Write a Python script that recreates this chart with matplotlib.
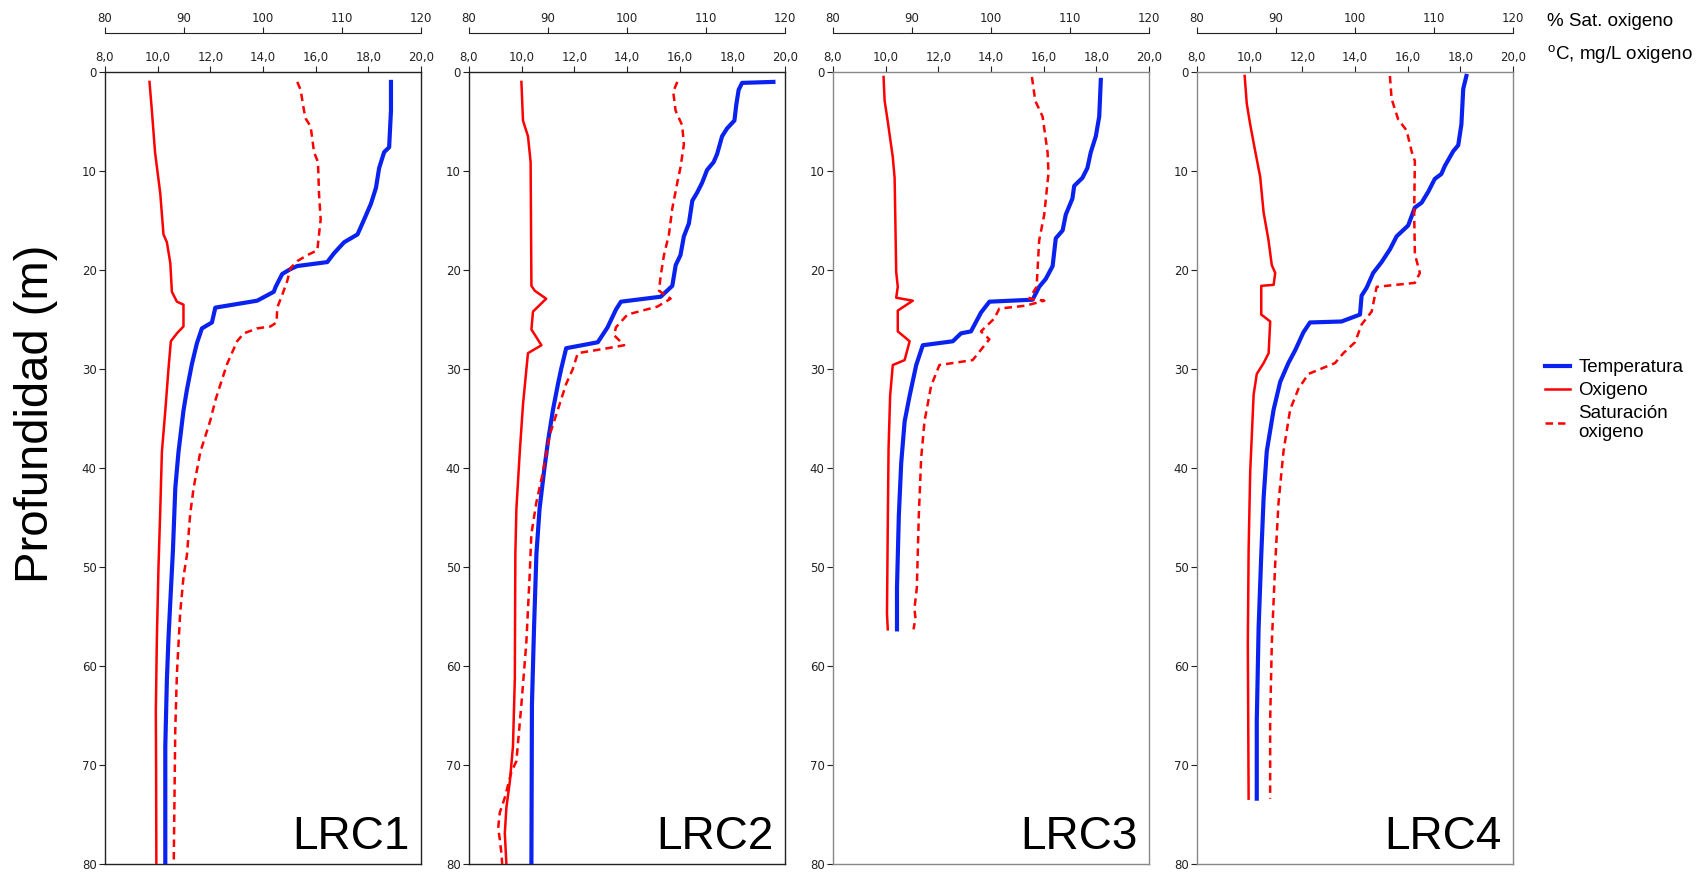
import numpy as np
import matplotlib.pyplot as plt
from matplotlib import font_manager
from matplotlib.ticker import FuncFormatter

# depth (m) / value pairs read from the profiles
lrc1_temp_depth = [1.0, 3.9, 7.6, 8.1, 9.7, 11.7, 13.3, 14.9, 16.4, 17.2, 18.3, 19.2, 19.6, 19.9, 20.4,
                   21.7, 22.2, 23.1, 23.8, 25.3, 25.9, 27.4, 29.5, 32.1, 34.2, 38.4, 42.0, 48.3, 53.5,
                   57.2, 61.4, 68.1, 80.0]
lrc1_temp = [18.86, 18.86, 18.79, 18.60, 18.41, 18.29, 18.10, 17.84, 17.59, 17.08, 16.70, 16.44, 15.30,
             15.05, 14.73, 14.48, 14.41, 13.78, 12.19, 12.06, 11.68, 11.49, 11.30, 11.11, 10.98, 10.79,
             10.67, 10.58, 10.48, 10.41, 10.35, 10.29, 10.29]
lrc1_oxy_depth = [1.0, 3.9, 8.1, 12.3, 16.4, 17.2, 19.3, 22.2, 23.2, 23.5, 25.7, 26.4, 27.2, 30.0, 34.2,
                  38.4, 44.1, 50.1, 57.2, 64.5, 70.2, 80.0]
lrc1_oxy = [9.69, 9.78, 9.90, 10.10, 10.22, 10.35, 10.48, 10.54, 10.73, 10.98, 10.98, 10.73, 10.50,
            10.41, 10.29, 10.16, 10.10, 10.03, 9.97, 9.93, 9.94, 9.95]
lrc1_sat_depth = [1.0, 1.8, 3.9, 4.7, 5.5, 8.1, 9.1, 12.3, 14.9, 16.4, 18.0, 18.5, 19.1, 19.8, 21.1,
                  22.5, 23.8, 25.3, 25.7, 25.9, 26.4, 27.2, 29.5, 32.1, 33.2, 35.2, 38.4, 42.0, 44.6,
                  48.8, 50.9, 54.6, 60.8, 66.6, 80.0]
lrc1_sat = [104.34, 104.76, 105.19, 105.40, 106.03, 106.46, 106.96, 107.09, 107.30, 107.09, 106.88,
            105.61, 104.34, 103.49, 103.07, 102.44, 101.80, 101.72, 100.95, 99.26, 97.57, 96.72, 95.45,
            94.39, 93.96, 93.33, 92.06, 91.22, 90.79, 90.37, 89.95, 89.52, 89.10, 88.89, 88.70]

lrc2_temp_depth = [1.0, 1.1, 1.8, 3.3, 4.9, 5.7, 6.5, 8.3, 9.1, 9.9, 11.2, 12.2, 13.0, 15.3, 16.6, 18.5,
                   19.5, 21.6, 22.7, 23.2, 24.0, 25.8, 27.3, 27.9, 30.0, 31.5, 34.1, 37.3, 39.9, 44.1,
                   48.7, 56.1, 63.9, 80.0]
lrc2_temp = [19.56, 18.37, 18.24, 18.15, 18.08, 17.80, 17.61, 17.42, 17.29, 17.04, 16.85, 16.66, 16.48,
             16.35, 16.16, 16.03, 15.85, 15.72, 15.28, 13.77, 13.58, 13.26, 12.89, 11.69, 11.50, 11.38,
             11.19, 11.00, 10.87, 10.68, 10.56, 10.47, 10.39, 10.37]
lrc2_oxy_depth = [1.0, 4.9, 6.5, 9.1, 21.6, 22.1, 22.9, 24.2, 26.0, 27.6, 28.4, 30.0, 33.6, 38.3, 44.1,
                  48.7, 61.3, 68.1, 71.7, 74.3, 76.9, 80.0]
lrc2_oxy = [9.99, 10.05, 10.24, 10.34, 10.37, 10.50, 10.93, 10.43, 10.37, 10.75, 10.24, 10.18, 10.05,
            9.93, 9.80, 9.76, 9.74, 9.67, 9.55, 9.42, 9.36, 9.42]
lrc2_sat_depth = [1.0, 2.0, 3.9, 5.4, 7.3, 9.6, 11.2, 13.8, 16.4, 18.5, 20.6, 22.1, 22.9, 23.7, 24.5,
                  25.8, 26.6, 27.6, 27.9, 28.4, 30.0, 31.5, 34.1, 36.7, 40.4, 43.5, 46.7, 50.8, 57.6,
                  63.9, 69.6, 70.7, 73.3, 74.8, 76.4, 77.5, 79.0, 80.0]
lrc2_sat = [106.36, 105.85, 106.15, 106.99, 107.20, 106.78, 106.36, 105.73, 105.31, 104.68, 104.26,
            104.05, 105.52, 103.84, 100.06, 98.59, 98.38, 99.64, 97.54, 93.77, 93.14, 92.30, 91.25,
            90.20, 89.36, 88.52, 87.89, 87.68, 87.26, 86.63, 86.00, 85.37, 84.53, 83.90, 83.69, 83.90,
            84.11, 84.20]

lrc3_temp_depth = [0.8, 4.5, 6.5, 8.1, 9.7, 10.7, 11.5, 12.8, 14.4, 16.0, 16.8, 19.6, 20.9, 21.7, 23.0,
                   23.2, 24.3, 26.2, 26.4, 27.2, 27.6, 29.6, 32.7, 35.3, 39.5, 44.8, 52.1, 56.3]
lrc3_temp = [18.17, 18.11, 17.98, 17.79, 17.66, 17.47, 17.16, 17.09, 16.84, 16.72, 16.46, 16.34, 16.08,
             15.83, 15.58, 13.94, 13.62, 13.24, 12.86, 12.55, 11.41, 11.16, 10.91, 10.72, 10.59, 10.50,
             10.43, 10.43]
lrc3_oxy_depth = [0.5, 2.9, 5.0, 8.6, 10.7, 15.4, 20.2, 21.7, 22.8, 23.1, 24.1, 26.2, 27.2, 29.1, 29.6,
                  32.7, 38.0, 45.8, 54.7, 56.3]
lrc3_oxy = [9.92, 9.96, 10.08, 10.27, 10.34, 10.37, 10.40, 10.46, 10.40, 11.03, 10.46, 10.46, 10.91,
            10.72, 10.27, 10.17, 10.11, 10.08, 10.05, 10.08]
lrc3_sat_depth = [0.5, 2.9, 4.5, 8.1, 10.2, 14.4, 17.0, 21.7, 22.9, 23.1, 23.6, 23.9, 24.9, 26.2, 27.0,
                  29.1, 29.6, 31.7, 35.3, 39.0, 44.8, 52.1, 54.2, 55.2, 56.3]
lrc3_sat = [105.18, 105.60, 106.53, 107.16, 107.28, 106.74, 106.10, 105.77, 104.84, 106.74, 104.42,
            101.05, 100.42, 98.73, 99.79, 97.68, 93.47, 92.42, 91.58, 91.16, 90.86, 90.61, 90.31, 90.44,
            90.19]

lrc4_temp_depth = [0.4, 1.7, 5.3, 7.4, 8.0, 9.5, 10.3, 10.8, 12.1, 13.2, 13.7, 15.5, 16.6, 17.9, 19.2,
                   20.3, 21.8, 22.6, 24.5, 25.2, 25.3, 26.3, 28.1, 29.4, 31.3, 34.1, 38.3, 43.0, 48.8,
                   56.1, 65.5, 73.4]
lrc4_temp = [18.23, 18.11, 18.04, 17.92, 17.73, 17.41, 17.28, 17.03, 16.78, 16.53, 16.27, 16.02, 15.58,
             15.33, 15.01, 14.69, 14.44, 14.25, 14.19, 13.49, 12.29, 12.04, 11.73, 11.47, 11.16, 10.91,
             10.65, 10.53, 10.44, 10.34, 10.27, 10.27]
lrc4_oxy_depth = [0.4, 3.2, 5.3, 8.0, 10.6, 14.2, 16.9, 19.5, 20.3, 21.5, 21.6, 24.5, 25.2, 28.4, 29.4,
                  30.5, 32.6, 40.4, 48.3, 57.7, 73.4]
lrc4_oxy = [9.81, 9.89, 10.02, 10.21, 10.40, 10.53, 10.71, 10.84, 10.97, 10.91, 10.44, 10.44, 10.78,
            10.72, 10.53, 10.27, 10.15, 10.02, 9.96, 9.93, 9.96]
lrc4_sat_depth = [0.4, 2.7, 4.8, 5.9, 8.0, 9.0, 14.2, 18.4, 20.3, 21.3, 21.7, 24.2, 25.5, 27.3, 28.4,
                  29.4, 30.5, 32.0, 34.1, 38.3, 43.6, 49.8, 57.7, 65.5, 73.4]
lrc4_sat = [104.42, 104.63, 105.47, 106.53, 107.16, 107.58, 107.49, 107.58, 108.21, 107.58, 102.74,
            102.11, 100.84, 100.00, 98.53, 97.47, 94.10, 92.84, 91.79, 90.95, 90.31, 89.89, 89.47,
            89.26, 89.26]

stations = ["LRC1", "LRC2", "LRC3", "LRC4"]
temp_ticks = np.arange(8, 21, 2)
sat_ticks = np.arange(80, 121, 10)
depth_ticks = np.arange(0, 81, 10)

panels = [
    (lrc1_temp_depth, lrc1_temp, lrc1_oxy_depth, lrc1_oxy, lrc1_sat_depth, lrc1_sat),
    (lrc2_temp_depth, lrc2_temp, lrc2_oxy_depth, lrc2_oxy, lrc2_sat_depth, lrc2_sat),
    (lrc3_temp_depth, lrc3_temp, lrc3_oxy_depth, lrc3_oxy, lrc3_sat_depth, lrc3_sat),
    (lrc4_temp_depth, lrc4_temp, lrc4_oxy_depth, lrc4_oxy, lrc4_sat_depth, lrc4_sat),
]

installed = {f.name for f in font_manager.fontManager.ttflist}
label_font = "Liberation Sans Narrow" if "Liberation Sans Narrow" in installed else "Liberation Sans"

plt.rcParams.update({
    "font.family": "DejaVu Sans",
    "mathtext.fontset": "custom",
    "mathtext.rm": "Liberation Sans",
})

W, H = 1705, 874
fig = plt.figure(figsize=(W / 100, H / 100), dpi=100)

blue = "#0a22f0"
red = "#ff0000"
lefts = [105, 469, 833, 1197]
spine_cols = ["#222222", "#222222", "#888888", "#888888"]
comma = FuncFormatter(lambda v, p: f"{v:.1f}".replace(".", ","))

for i, (td, tv, od, ov, sd, sv) in enumerate(panels):
    ax = fig.add_axes([lefts[i] / W, 10 / H, 316 / W, 792 / H])
    l_t, = ax.plot(tv, td, color=blue, lw=3.0, solid_joinstyle="round", zorder=3)
    l_o, = ax.plot(ov, od, color=red, lw=1.8, zorder=3)
    ax.set_xlim(8, 20)
    ax.set_ylim(80, 0)
    ax.set_yticks(depth_ticks)

    ax2 = ax.twiny()
    l_s, = ax2.plot(sv, sd, color=red, lw=1.8, ls=(0, (3, 2)), zorder=3)
    ax2.set_xlim(80, 120)
    ax2.set_xticks(sat_ticks)
    ax2.spines["top"].set_position(("outward", 28))
    ax2.spines["top"].set_color("#222222")
    for s in ["left", "right", "bottom"]:
        ax2.spines[s].set_visible(False)
    ax2.tick_params(direction="out", length=4, width=0.8, labelsize=8.5, pad=2,
                    colors="#222222")

    # twiny moves the original ticks to the bottom, put them back on top
    ax.xaxis.tick_top()
    ax.set_xticks(temp_ticks)
    ax.xaxis.set_major_formatter(comma)
    ax.tick_params(direction="out", length=4, width=0.8, labelsize=8.5, pad=2,
                   colors="#222222")
    for s in ax.spines.values():
        s.set_color(spine_cols[i])
        s.set_linewidth(1.0)

    ax.text(0.965, 0.006, stations[i], transform=ax.transAxes, ha="right", va="bottom",
            fontsize=33, family=label_font, zorder=4)

fig.text(0.021, 0.527, "Profundidad (m)", rotation=90, ha="center", va="center",
         fontsize=34, family="Liberation Sans")

fig.text(1547 / W, 1 - 21 / H, "% Sat. oxigeno", ha="left", va="center",
         fontsize=13.5, family="Liberation Sans")
fig.text(1547 / W, 1 - 55 / H, r"$^{\mathrm{o}}$C, mg/L oxigeno", ha="left", va="center",
         fontsize=13.5, family="Liberation Sans")

fig.legend([l_t, l_o, l_s], ["Temperatura", "Oxigeno", "Saturación\noxigeno"],
           loc="upper left", bbox_to_anchor=(1536 / W, 1 - 350 / H), frameon=False,
           prop={"family": "Liberation Sans", "size": 13.5}, handlelength=1.3,
           handletextpad=0.45, labelspacing=0.3, borderpad=0)

fig.savefig("out.png", dpi=100)
